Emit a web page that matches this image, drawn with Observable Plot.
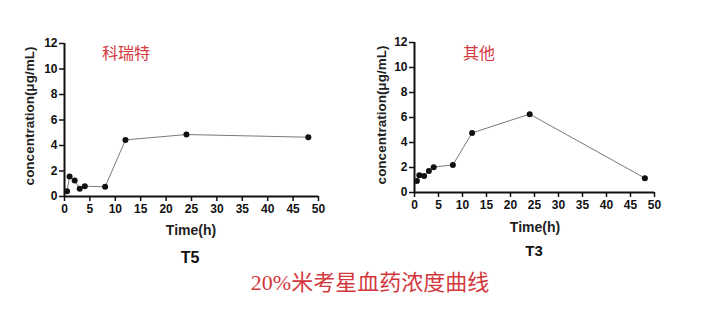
<!DOCTYPE html>
<html>
<head>
<meta charset="utf-8">
<script src="https://cdn.jsdelivr.net/npm/d3@7"></script>
<script src="https://cdn.jsdelivr.net/npm/@observablehq/plot@0.6"></script>
<style>
  html, body { margin: 0; padding: 0; background: #fff; }
  #wrap { position: relative; width: 702px; height: 325px; overflow: hidden; font-family: "Liberation Sans", Arial, sans-serif; }
  .chart { position: absolute; top: 0; }
  .t { position: absolute; white-space: nowrap; transform: translate(-50%, -50%); line-height: 1; }
  .red { color: #d2383d; font-family: "Liberation Serif", "Noto Sans CJK SC", serif; }
  .ylab { font-weight: bold; font-size: 13.5px; color: #222; transform: translate(-50%, -50%) rotate(-90deg); }
  .xlab { font-weight: bold; font-size: 14px; color: #222; }
  .tl { font-weight: bold; color: #111; }
</style>
</head>
<body>
<div id="wrap"></div>
<script>
// Data
const times = [0.5, 1, 2, 3, 4, 8, 12, 24, 48];
const t5Values = [0.42, 1.57, 1.25, 0.60, 0.81, 0.76, 4.44, 4.86, 4.65];
const t3Values = [0.93, 1.39, 1.33, 1.73, 2.03, 2.21, 4.77, 6.27, 1.15];
const xTicks = [0, 5, 10, 15, 20, 25, 30, 35, 40, 45, 50];
const yTicks = [0, 2, 4, 6, 8, 10, 12];
const leftTitle = "科瑞特";
const rightTitle = "其他";
const leftName = "T5";
const rightName = "T3";
const xLabel = "Time(h)";
const yLabel = "concentration(μg/mL)";
const caption = "20%米考星血药浓度曲线";

const wrap = document.getElementById("wrap");

function makeChart(values, opts) {
  const data = times.map((t, i) => ({t, v: values[i]}));
  const p = Plot.plot({
    width: opts.width,
    height: opts.height,
    marginLeft: 64,
    marginRight: opts.width - 64 - opts.xw,
    marginTop: opts.top,
    marginBottom: opts.height - opts.top - opts.yh,
    style: {background: "transparent", fontFamily: "Liberation Sans, Arial, sans-serif", fontSize: "12px", fontWeight: "bold", color: "#111"},
    x: {domain: [0, 50], label: null},
    y: {domain: [0, 12], label: null},
    marks: [
      Plot.axisX({ticks: xTicks, tickSize: 5, tickPadding: 3, stroke: "#111", strokeWidth: 1.5, label: null, tickFormat: d3.format("d")}),
      Plot.axisY({ticks: yTicks, tickSize: 5, tickPadding: 2, stroke: "#111", strokeWidth: 1.5, label: null, tickFormat: d3.format("d")}),
      Plot.ruleY([0], {stroke: "#111", strokeWidth: 2}),
      Plot.ruleX([0], {stroke: "#111", strokeWidth: 2}),
      Plot.line(data, {x: "t", y: "v", stroke: "#7a7a7a", strokeWidth: 1}),
      Plot.dot(data, {x: "t", y: "v", r: 3, fill: "#111", stroke: "none"})
    ]
  });
  p.classList.add("chart");
  p.style.left = opts.left + "px";
  wrap.appendChild(p);
}

makeChart(t5Values, {left: 0, width: 340, height: 230, top: 43, yh: 153, xw: 254});
makeChart(t3Values, {left: 350, width: 330, height: 225, top: 42, yh: 150, xw: 240});

function addText(txt, x, y, cls, size) {
  const d = document.createElement("div");
  d.className = "t " + cls;
  d.textContent = txt;
  d.style.left = x + "px";
  d.style.top = y + "px";
  if (size) d.style.fontSize = size + "px";
  wrap.appendChild(d);
}

addText(leftTitle, 126, 54, "red", 16);
addText(rightTitle, 479, 54, "red", 16);
addText(yLabel, 30, 116, "ylab");
addText(yLabel, 382, 115, "ylab");
addText(xLabel, 191, 230, "xlab");
addText(xLabel, 535, 227, "xlab");
addText(leftName, 190, 258, "tl", 16);
addText(rightName, 534, 250, "tl", 15);
addText(caption, 370, 283, "red", 22);
</script>
</body>
</html>
